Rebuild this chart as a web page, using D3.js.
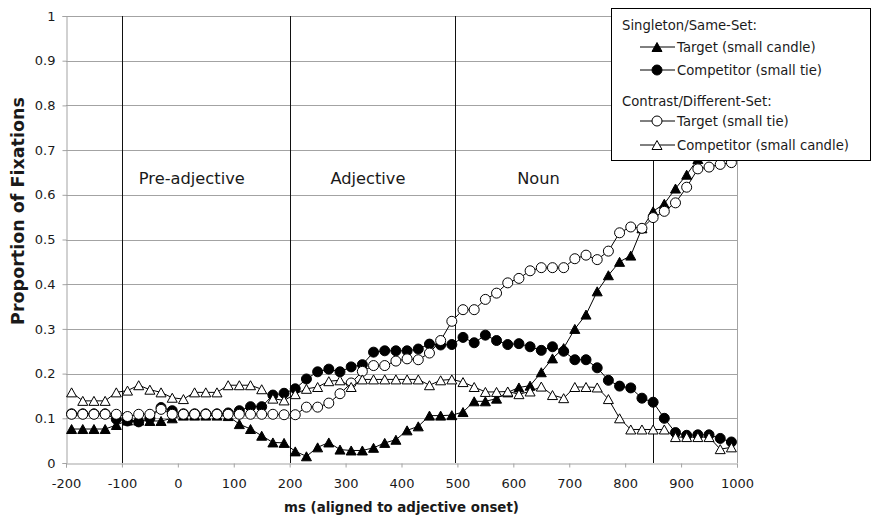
<!DOCTYPE html>
<html>
<head>
<meta charset="utf-8">
<script src="https://cdn.jsdelivr.net/npm/d3@7"></script>
<style>
  body { margin: 0; background: #fff; }
  text { font-family: "DejaVu Sans", Verdana, sans-serif; fill: #1a1a1a; }
</style>
</head>
<body>
<svg id="chart" width="873" height="521"></svg>
<script>
// Time bins (ms, aligned to adjective onset), 20 ms wide, plotted at bin centres
const timeBins = [
  -190, -170, -150, -130, -110, -90, -70, -50, -30, -10,
  10, 30, 50, 70, 90, 110, 130, 150, 170, 190,
  210, 230, 250, 270, 290, 310, 330, 350, 370, 390,
  410, 430, 450, 470, 490, 510, 530, 550, 570, 590,
  610, 630, 650, 670, 690, 710, 730, 750, 770, 790,
  810, 830, 850, 870, 890, 910, 930, 950, 970, 990
];

// Singleton/Same-Set: Target (small candle)
const sameTarget = [
  0.076, 0.076, 0.076, 0.076, 0.085, 0.095, 0.095, 0.094, 0.094, 0.100,
  0.106, 0.106, 0.106, 0.106, 0.105, 0.087, 0.076, 0.061, 0.046, 0.045,
  0.026, 0.015, 0.035, 0.046, 0.030, 0.028, 0.028, 0.034, 0.045, 0.052,
  0.073, 0.082, 0.106, 0.106, 0.107, 0.114, 0.138, 0.138, 0.144, 0.158,
  0.169, 0.173, 0.203, 0.234, 0.257, 0.300, 0.332, 0.384, 0.420, 0.450,
  0.464, 0.525, 0.563, 0.580, 0.614, 0.645, 0.680, 0.705, 0.725, 0.745
];

// Singleton/Same-Set: Competitor (small tie)
const sameCompetitor = [
  0.110, 0.110, 0.110, 0.110, 0.098, 0.094, 0.092, 0.100, 0.124, 0.117,
  0.110, 0.110, 0.110, 0.110, 0.112, 0.117, 0.126, 0.126, 0.152, 0.156,
  0.166, 0.188, 0.204, 0.210, 0.204, 0.215, 0.220, 0.248, 0.251, 0.251,
  0.251, 0.255, 0.266, 0.264, 0.265, 0.281, 0.269, 0.286, 0.274, 0.265,
  0.267, 0.260, 0.252, 0.260, 0.250, 0.231, 0.231, 0.213, 0.185, 0.172,
  0.168, 0.145, 0.136, 0.100, 0.068, 0.062, 0.063, 0.063, 0.055, 0.047
];

// Contrast/Different-Set: Target (small tie)
const diffTarget = [
  0.109, 0.109, 0.109, 0.109, 0.109, 0.104, 0.109, 0.109, 0.120, 0.109,
  0.109, 0.109, 0.109, 0.109, 0.109, 0.109, 0.109, 0.109, 0.109, 0.108,
  0.108, 0.125, 0.125, 0.134, 0.155, 0.179, 0.205, 0.218, 0.218, 0.228,
  0.233, 0.231, 0.246, 0.274, 0.317, 0.343, 0.343, 0.366, 0.380, 0.403,
  0.413, 0.430, 0.437, 0.437, 0.437, 0.457, 0.465, 0.455, 0.474, 0.515,
  0.528, 0.525, 0.549, 0.563, 0.582, 0.617, 0.658, 0.662, 0.668, 0.672
];

// Contrast/Different-Set: Competitor (small candle)
const diffCompetitor = [
  0.158, 0.139, 0.139, 0.139, 0.158, 0.162, 0.174, 0.164, 0.158, 0.146,
  0.143, 0.158, 0.158, 0.158, 0.174, 0.174, 0.174, 0.165, 0.144, 0.140,
  0.154, 0.166, 0.170, 0.183, 0.185, 0.170, 0.187, 0.187, 0.187, 0.187,
  0.187, 0.187, 0.174, 0.185, 0.187, 0.181, 0.170, 0.159, 0.159, 0.160,
  0.154, 0.160, 0.171, 0.152, 0.145, 0.170, 0.170, 0.169, 0.143, 0.100,
  0.075, 0.075, 0.075, 0.075, 0.058, 0.058, 0.058, 0.058, 0.031, 0.035
];

const xTickValues = [-200, -100, 0, 100, 200, 300, 400, 500, 600, 700, 800, 900, 1000];
const yTickValues = [0, 0.1, 0.2, 0.3, 0.4, 0.5, 0.6, 0.7, 0.8, 0.9, 1];

// Word-region boundaries (ms) and their labels
const regionBoundaries = [-100, 200, 495, 850];
const regionNames = ["Pre-adjective", "Adjective", "Noun"];
const regionLabelTimes = [25, 340, 645];
const regionLabelLevel = 0.625;

const seriesNames = [
  "Target (small candle)", "Competitor (small tie)",
  "Target (small tie)", "Competitor (small candle)"
];
const seriesValues = [sameTarget, sameCompetitor, diffTarget, diffCompetitor];
const seriesMarkers = ["triangle", "circle", "circle", "triangle"];
const seriesFilled = [true, true, false, false];
const legendGroups = ["Singleton/Same-Set:", "Contrast/Different-Set:"];

const svg = d3.select("#chart");
const margin = { left: 66, right: 136, top: 16, bottom: 58 };
const W = 873, H = 521;

const x = d3.scaleLinear().domain([-200, 1000]).range([margin.left, W - margin.right]);
const y = d3.scaleLinear().domain([0, 1]).range([H - margin.bottom, margin.top]);

const gridColor = "#a3a3a3";

// scale a text element's font size so that it spans the given width
function fitWidth(sel, width) {
  const node = sel.node();
  const size = parseFloat(sel.style("font-size"));
  const w = node.getComputedTextLength();
  if (w > 0) sel.style("font-size", (size * width / w).toFixed(2) + "px");
  return sel;
}

// horizontal gridlines
svg.append("g").selectAll("line")
  .data(yTickValues.filter(d => d > 0))
  .join("line")
  .attr("x1", x(-200)).attr("x2", x(1000))
  .attr("y1", d => Math.round(y(d)) + 0.5).attr("y2", d => Math.round(y(d)) + 0.5)
  .attr("stroke", gridColor).attr("stroke-width", 1);

// right border of the plot area
svg.append("line")
  .attr("x1", Math.round(x(1000)) + 0.5).attr("x2", Math.round(x(1000)) + 0.5)
  .attr("y1", y(1)).attr("y2", y(0))
  .attr("stroke", gridColor);

// axes
const yAxis = svg.append("g")
  .attr("transform", `translate(${Math.round(x(-200)) + 0.5},0)`)
  .call(d3.axisLeft(y).tickValues(yTickValues).tickSize(4).tickPadding(7).tickFormat(d => String(d)));
const xAxis = svg.append("g")
  .attr("transform", `translate(0,${Math.round(y(0)) + 0.5})`)
  .call(d3.axisBottom(x).tickValues(xTickValues).tickSize(4).tickPadding(11).tickFormat(d => String(d)));
[yAxis, xAxis].forEach(g => {
  g.select(".domain").attr("stroke", gridColor);
  g.selectAll(".tick line").attr("stroke", gridColor);
  g.selectAll(".tick text")
    .style("font-family", '"DejaVu Sans", Verdana, sans-serif')
    .style("font-size", "13px").attr("fill", "#1a1a1a");
});

// region boundary lines
svg.append("g").selectAll("line")
  .data(regionBoundaries)
  .join("line")
  .attr("x1", d => Math.round(x(d)) + 0.5).attr("x2", d => Math.round(x(d)) + 0.5)
  .attr("y1", y(1)).attr("y2", y(0))
  .attr("stroke", "#111").attr("stroke-width", 1);

// region labels
const regionText = svg.append("g").selectAll("text")
  .data(regionNames)
  .join("text")
  .attr("x", (d, i) => x(regionLabelTimes[i]))
  .attr("y", y(regionLabelLevel))
  .attr("text-anchor", "middle")
  .style("font-size", "14px")
  .text(d => d);
fitWidth(d3.select(regionText.nodes()[0]), 106);
regionText.style("font-size", d3.select(regionText.nodes()[0]).style("font-size"));

// marker drawing
const triW = 10, triH = 9, circR = 5;
function drawMarker(sel, kind, filled) {
  if (kind === "circle") {
    sel.append("circle").attr("r", circR)
      .attr("fill", filled ? "#000" : "#fff").attr("stroke", "#000").attr("stroke-width", 1);
  } else {
    sel.append("path")
      .attr("d", `M0,${-triH / 2}L${triW / 2},${triH / 2}L${-triW / 2},${triH / 2}Z`)
      .attr("fill", filled ? "#000" : "#fff").attr("stroke", "#000").attr("stroke-width", 1)
      .attr("stroke-linejoin", "miter");
  }
}

const line = d3.line().x(d => x(d[0])).y(d => y(d[1]));

seriesValues.forEach((vals, s) => {
  const pts = timeBins.map((t, i) => [t, vals[i]]);
  const g = svg.append("g");
  g.append("path").datum(pts)
    .attr("d", line).attr("fill", "none").attr("stroke", "#000").attr("stroke-width", 1);
  g.selectAll("g.pt").data(pts).join("g")
    .attr("class", "pt")
    .attr("transform", d => `translate(${x(d[0])},${y(d[1])})`)
    .each(function () { drawMarker(d3.select(this), seriesMarkers[s], seriesFilled[s]); });
});

// axis titles
const yTitle = svg.append("text")
  .attr("transform", `translate(24,${211}) rotate(-90)`)
  .attr("text-anchor", "middle")
  .style("font-size", "13px").style("font-weight", "bold")
  .text("Proportion of Fixations");
fitWidth(yTitle, 228);
const xTitle = svg.append("text")
  .attr("x", (x(-200) + x(1000)) / 2).attr("y", 512)
  .attr("text-anchor", "middle")
  .style("font-size", "13px").style("font-weight", "bold")
  .text("ms (aligned to adjective onset)");
fitWidth(xTitle, 235);

// legend
const legend = svg.append("g");
legend.append("rect")
  .attr("x", 611.5).attr("y", 8.5).attr("width", 259).attr("height", 152)
  .attr("fill", "#fff").attr("stroke", "#000").attr("stroke-width", 1);
const headerY = [30, 106];
const entryY = [47, 70, 121, 145];
const legendTexts = [];
legendGroups.forEach((h, i) => {
  legendTexts.push(legend.append("text").attr("x", 622).attr("y", headerY[i]).style("font-size", "13px").text(h));
});
seriesNames.forEach((name, s) => {
  const g = legend.append("g").attr("transform", `translate(657,${entryY[s]})`);
  g.append("line").attr("x1", -17).attr("x2", 18).attr("y1", 0).attr("y2", 0).attr("stroke", "#000");
  drawMarker(g, seriesMarkers[s], seriesFilled[s]);
  legendTexts.push(legend.append("text").attr("x", 677).attr("y", entryY[s] + 4.5).style("font-size", "13px").text(name));
});
// legend type size taken from the longest entry
fitWidth(legendTexts[5], 172);
legendTexts.forEach(t => t.style("font-size", legendTexts[5].style("font-size")));
</script>
</body>
</html>
